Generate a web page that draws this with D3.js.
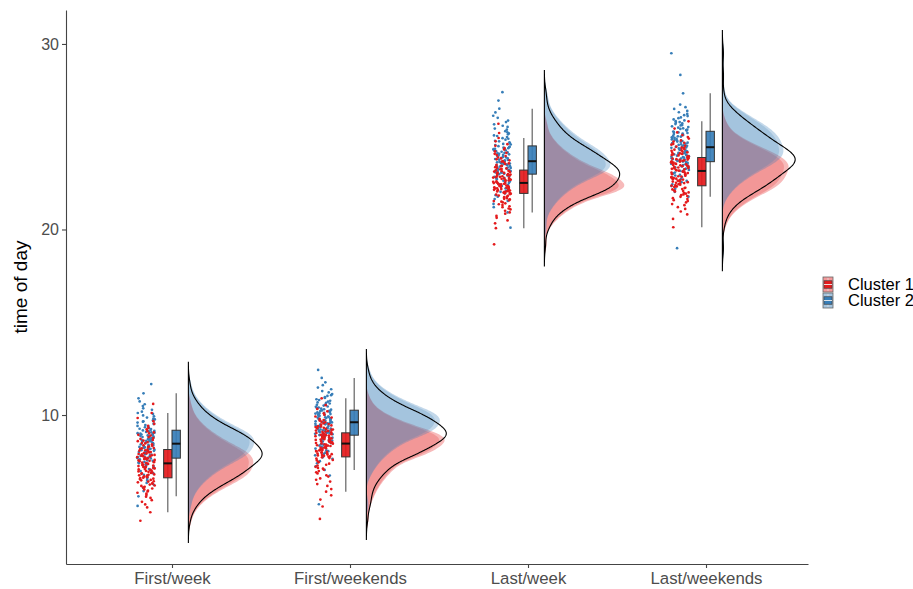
<!DOCTYPE html>
<html>
<head>
<meta charset="utf-8">
<script src="https://cdn.jsdelivr.net/npm/d3@7"></script>
<style>
  body { margin: 0; background: #fff; }
  svg { display: block; font-family: "Liberation Sans", Arial, Helvetica, sans-serif; }
</style>
</head>
<body>
<svg id="chart" width="913" height="589"></svg>
<script>
// ---- data ---------------------------------------------------------------
const categories = ["First/week", "First/weekends", "Last/week", "Last/weekends"];
const clusterNames = ["Cluster 1", "Cluster 2"];
const clusterColors = ["#E41A1C", "#377EB8"];
const yTickValues = [10, 20, 30];

// time of day (hours) per respondent, cluster 1
const c1FirstWeek = [
  4.30, 4.76, 5.02, 5.18, 5.32, 5.41, 5.53, 5.60, 5.69, 5.76, 5.81, 5.88, 5.92, 5.99, 6.04, 6.09, 6.13, 6.18, 6.20, 6.25, 6.30, 6.32, 6.37, 6.41, 6.43, 6.48, 6.50, 6.55, 6.57, 6.60,
  6.62, 6.65, 6.67, 6.70, 6.73, 6.75, 6.78, 6.80, 6.83, 6.86, 6.88, 6.91, 6.94, 6.96, 6.99, 7.01, 7.04, 7.07, 7.09, 7.12, 7.15, 7.17, 7.20, 7.22, 7.25, 7.28, 7.30, 7.33, 7.36, 7.38,
  7.41, 7.43, 7.46, 7.48, 7.51, 7.53, 7.56, 7.58, 7.61, 7.63, 7.66, 7.68, 7.71, 7.73, 7.76, 7.78, 7.81, 7.83, 7.85, 7.88, 7.90, 7.93, 7.95, 7.98, 8.00, 8.03, 8.05, 8.08, 8.10, 8.13,
  8.17, 8.20, 8.22, 8.27, 8.30, 8.35, 8.37, 8.42, 8.47, 8.49, 8.54, 8.59, 8.62, 8.66, 8.71, 8.76, 8.81, 8.89, 8.93, 9.01, 9.06, 9.13, 9.23, 9.30, 9.42, 9.52, 9.67, 9.84, 10.11, 10.60
];
const c1FirstWeekends = [
  4.40, 5.07, 5.44, 5.67, 5.87, 6.01, 6.18, 6.28, 6.41, 6.51, 6.58, 6.68, 6.75, 6.85, 6.91, 6.98, 7.05, 7.11, 7.15, 7.21, 7.28, 7.32, 7.38, 7.45, 7.48, 7.55, 7.58, 7.65, 7.68, 7.72,
  7.75, 7.77, 7.80, 7.82, 7.85, 7.87, 7.89, 7.92, 7.94, 7.97, 7.99, 8.01, 8.04, 8.06, 8.09, 8.11, 8.13, 8.16, 8.18, 8.21, 8.23, 8.25, 8.28, 8.30, 8.33, 8.35, 8.37, 8.40, 8.42, 8.45,
  8.47, 8.49, 8.51, 8.53, 8.55, 8.57, 8.59, 8.61, 8.62, 8.64, 8.66, 8.68, 8.70, 8.72, 8.74, 8.76, 8.78, 8.80, 8.82, 8.84, 8.86, 8.88, 8.89, 8.91, 8.93, 8.95, 8.97, 8.99, 9.01, 9.03,
  9.07, 9.09, 9.11, 9.14, 9.16, 9.20, 9.22, 9.25, 9.29, 9.31, 9.35, 9.38, 9.40, 9.44, 9.48, 9.51, 9.55, 9.61, 9.64, 9.70, 9.73, 9.79, 9.86, 9.92, 10.01, 10.09, 10.20, 10.33, 10.53, 10.90
];
const c1LastWeek = [
  19.20, 20.07, 20.33, 20.49, 20.63, 20.73, 20.85, 20.92, 21.01, 21.08, 21.13, 21.20, 21.25, 21.32, 21.36, 21.41, 21.46, 21.50, 21.53, 21.57, 21.62, 21.65, 21.69, 21.74, 21.76, 21.81, 21.83, 21.88, 21.90, 21.93,
  21.95, 21.97, 21.99, 22.01, 22.03, 22.05, 22.06, 22.08, 22.10, 22.12, 22.14, 22.16, 22.18, 22.20, 22.22, 22.24, 22.25, 22.27, 22.29, 22.31, 22.33, 22.35, 22.37, 22.39, 22.41, 22.43, 22.44, 22.46, 22.48, 22.50,
  22.52, 22.54, 22.57, 22.59, 22.61, 22.64, 22.66, 22.68, 22.70, 22.73, 22.75, 22.77, 22.80, 22.82, 22.84, 22.87, 22.89, 22.91, 22.93, 22.96, 22.98, 23.00, 23.03, 23.05, 23.07, 23.10, 23.12, 23.14, 23.16, 23.19,
  23.24, 23.26, 23.29, 23.33, 23.36, 23.41, 23.43, 23.48, 23.53, 23.56, 23.61, 23.66, 23.68, 23.73, 23.78, 23.83, 23.88, 23.96, 24.01, 24.08, 24.13, 24.21, 24.31, 24.38, 24.51, 24.60, 24.75, 24.93, 25.20, 25.70
];
const c1LastWeekends = [
  20.12, 20.57, 20.81, 20.97, 21.11, 21.20, 21.31, 21.37, 21.46, 21.53, 21.58, 21.64, 21.69, 21.76, 21.80, 21.85, 21.89, 21.93, 21.96, 22.00, 22.05, 22.07, 22.11, 22.16, 22.18, 22.23, 22.25, 22.29, 22.32, 22.34,
  22.36, 22.39, 22.41, 22.44, 22.47, 22.50, 22.52, 22.55, 22.58, 22.60, 22.63, 22.66, 22.69, 22.71, 22.74, 22.77, 22.79, 22.82, 22.85, 22.87, 22.90, 22.93, 22.96, 22.98, 23.01, 23.04, 23.06, 23.09, 23.12, 23.14,
  23.17, 23.19, 23.22, 23.24, 23.27, 23.29, 23.31, 23.34, 23.36, 23.39, 23.41, 23.43, 23.46, 23.48, 23.51, 23.53, 23.55, 23.58, 23.60, 23.63, 23.65, 23.67, 23.70, 23.72, 23.75, 23.77, 23.79, 23.82, 23.84, 23.87,
  23.91, 23.93, 23.95, 23.99, 24.01, 24.05, 24.07, 24.10, 24.14, 24.16, 24.20, 24.24, 24.26, 24.30, 24.34, 24.38, 24.41, 24.47, 24.51, 24.57, 24.61, 24.67, 24.74, 24.80, 24.90, 24.98, 25.09, 25.23, 25.44, 25.83
];

// time of day (hours) per respondent, cluster 2
const c2FirstWeek = [
  5.10, 5.62, 5.90, 6.08, 6.24, 6.34, 6.47, 6.55, 6.65, 6.73, 6.78, 6.85, 6.91, 6.98, 7.04, 7.09, 7.14, 7.19, 7.22, 7.27, 7.32, 7.35, 7.40, 7.45, 7.47, 7.53, 7.55, 7.61, 7.63, 7.66,
  7.68, 7.71, 7.73, 7.76, 7.79, 7.81, 7.84, 7.86, 7.89, 7.92, 7.94, 7.97, 8.00, 8.02, 8.05, 8.07, 8.10, 8.13, 8.15, 8.18, 8.21, 8.23, 8.26, 8.28, 8.31, 8.34, 8.36, 8.39, 8.42, 8.44,
  8.47, 8.49, 8.52, 8.54, 8.57, 8.59, 8.61, 8.64, 8.66, 8.69, 8.71, 8.73, 8.76, 8.78, 8.81, 8.83, 8.85, 8.88, 8.90, 8.93, 8.95, 8.97, 9.00, 9.02, 9.05, 9.07, 9.09, 9.12, 9.14, 9.17,
  9.21, 9.24, 9.26, 9.31, 9.34, 9.39, 9.41, 9.46, 9.51, 9.54, 9.59, 9.64, 9.66, 9.71, 9.76, 9.81, 9.86, 9.93, 9.98, 10.06, 10.11, 10.18, 10.28, 10.36, 10.48, 10.58, 10.73, 10.90, 11.17, 11.67
];
const c2FirstWeekends = [
  5.19, 6.74, 7.04, 7.23, 7.40, 7.51, 7.64, 7.72, 7.83, 7.91, 7.97, 8.05, 8.10, 8.19, 8.24, 8.29, 8.35, 8.40, 8.43, 8.49, 8.54, 8.57, 8.62, 8.68, 8.70, 8.76, 8.78, 8.84, 8.87, 8.89,
  8.92, 8.94, 8.97, 8.99, 9.01, 9.04, 9.06, 9.08, 9.11, 9.13, 9.15, 9.18, 9.20, 9.22, 9.25, 9.27, 9.29, 9.32, 9.34, 9.36, 9.39, 9.41, 9.43, 9.46, 9.48, 9.50, 9.53, 9.55, 9.57, 9.60,
  9.62, 9.64, 9.66, 9.69, 9.71, 9.73, 9.75, 9.77, 9.79, 9.82, 9.84, 9.86, 9.88, 9.90, 9.92, 9.95, 9.97, 9.99, 10.01, 10.03, 10.05, 10.08, 10.10, 10.12, 10.14, 10.16, 10.18, 10.21, 10.23, 10.25,
  10.29, 10.31, 10.34, 10.38, 10.40, 10.44, 10.46, 10.51, 10.55, 10.57, 10.62, 10.66, 10.68, 10.72, 10.77, 10.81, 10.85, 10.92, 10.96, 11.03, 11.07, 11.13, 11.22, 11.29, 11.39, 11.48, 11.61, 11.76, 12.00, 12.43
];
const c2LastWeek = [
  20.10, 20.92, 21.20, 21.38, 21.54, 21.64, 21.77, 21.85, 21.95, 22.03, 22.08, 22.16, 22.21, 22.29, 22.34, 22.39, 22.45, 22.50, 22.52, 22.58, 22.63, 22.65, 22.71, 22.76, 22.78, 22.84, 22.86, 22.91, 22.94, 22.96,
  22.99, 23.01, 23.04, 23.06, 23.08, 23.11, 23.13, 23.15, 23.18, 23.20, 23.22, 23.25, 23.27, 23.29, 23.32, 23.34, 23.36, 23.39, 23.41, 23.43, 23.46, 23.48, 23.50, 23.53, 23.55, 23.57, 23.60, 23.62, 23.64, 23.67,
  23.69, 23.72, 23.75, 23.77, 23.80, 23.83, 23.86, 23.88, 23.91, 23.94, 23.97, 23.99, 24.02, 24.05, 24.08, 24.11, 24.13, 24.16, 24.19, 24.22, 24.24, 24.27, 24.30, 24.33, 24.35, 24.38, 24.41, 24.44, 24.46, 24.49,
  24.55, 24.58, 24.61, 24.66, 24.69, 24.75, 24.78, 24.84, 24.89, 24.92, 24.98, 25.04, 25.07, 25.13, 25.18, 25.24, 25.30, 25.38, 25.44, 25.53, 25.59, 25.67, 25.79, 25.87, 26.02, 26.13, 26.31, 26.51, 26.95, 27.40
];
const c2LastWeekends = [
  18.99, 21.77, 22.03, 22.20, 22.34, 22.43, 22.55, 22.62, 22.72, 22.79, 22.83, 22.91, 22.95, 23.02, 23.07, 23.12, 23.16, 23.21, 23.24, 23.28, 23.33, 23.35, 23.40, 23.45, 23.47, 23.52, 23.54, 23.59, 23.61, 23.64,
  23.66, 23.69, 23.71, 23.74, 23.77, 23.79, 23.82, 23.84, 23.87, 23.90, 23.92, 23.95, 23.98, 24.00, 24.03, 24.05, 24.08, 24.11, 24.13, 24.16, 24.19, 24.21, 24.24, 24.26, 24.29, 24.32, 24.34, 24.37, 24.40, 24.42,
  24.45, 24.48, 24.51, 24.54, 24.56, 24.59, 24.62, 24.65, 24.68, 24.71, 24.74, 24.77, 24.79, 24.82, 24.85, 24.88, 24.91, 24.94, 24.97, 25.00, 25.02, 25.05, 25.08, 25.11, 25.14, 25.17, 25.20, 25.23, 25.25, 25.28,
  25.33, 25.36, 25.38, 25.42, 25.45, 25.49, 25.52, 25.56, 25.61, 25.63, 25.68, 25.72, 25.75, 25.79, 25.84, 25.88, 25.93, 26.00, 26.04, 26.11, 26.16, 26.23, 26.32, 26.39, 26.50, 26.59, 26.73, 27.34, 28.33, 29.50
];

const cluster1Series = [c1FirstWeek, c1FirstWeekends, c1LastWeek, c1LastWeekends];
const cluster2Series = [c2FirstWeek, c2FirstWeekends, c2LastWeek, c2LastWeekends];

// ---- layout -------------------------------------------------------------
const svg = d3.select("#chart");
const panel = { left: 66, right: 808, top: 10, bottom: 564 };

const x = d3.scaleLinear().domain([0.4045, 4.573]).range([panel.left, panel.right]);
const y = d3.scaleLinear().domain([1.97, 31.83]).range([panel.bottom, panel.top]);

// offsets in category units
const rain = { center: -0.146, spread: 0.05 };
const box = { dodge: 0.0235, width: 0.047 };
const cloud = { offset: 0.092, width: 0.449 };

// ---- helpers ------------------------------------------------------------
function bwNrd0(v) {
  const s = d3.deviation(v);
  const iqr = d3.quantile(v, 0.75) - d3.quantile(v, 0.25);
  return 0.9 * Math.min(s, iqr / 1.34) * Math.pow(v.length, -0.2);
}
function kde(v) {
  const sorted = v.slice().sort(d3.ascending);
  const bw = bwNrd0(sorted);
  const lo = sorted[0] - 3 * bw, hi = sorted[sorted.length - 1] + 3 * bw;
  const n = 300, c = 1 / (bw * Math.sqrt(2 * Math.PI) * sorted.length);
  return d3.range(n).map(k => {
    const t = lo + (hi - lo) * k / (n - 1);
    let s = 0;
    for (const xi of sorted) { const u = (t - xi) / bw; s += Math.exp(-0.5 * u * u); }
    return [t, s * c];
  });
}
function boxStats(v) {
  const s = v.slice().sort(d3.ascending);
  const q1 = d3.quantile(s, 0.25), med = d3.quantile(s, 0.5), q3 = d3.quantile(s, 0.75);
  const iqr = q3 - q1;
  const lo = d3.min(s.filter(d => d >= q1 - 1.5 * iqr));
  const hi = d3.max(s.filter(d => d <= q3 + 1.5 * iqr));
  return { q1, med, q3, lo, hi };
}
// deterministic horizontal jitter in [-1, 1]
function jitterOffset(i, seed) {
  const s = Math.sin(i * 12.9898 + seed * 78.233) * 43758.5453;
  return (s - Math.floor(s)) * 2 - 1;
}

// ---- densities ----------------------------------------------------------
const clusterDens = categories.map((_, ci) => [kde(cluster1Series[ci]), kde(cluster2Series[ci])]);
const totalDens = categories.map((_, ci) => kde(cluster1Series[ci].concat(cluster2Series[ci])));
const maxClusterD = d3.max(clusterDens.flat(), d => d3.max(d, p => p[1]));
const maxTotalD = d3.max(totalDens, d => d3.max(d, p => p[1]));

const gPlot = svg.append("g");

// filled half-violins (cluster 1 below cluster 2); a soft rim around each
categories.forEach((cat, ci) => {
  const xc = ci + 1;
  [0, 1].forEach(k => {
    const dens = clusterDens[ci][k];
    [[1, 0.3], [0.93, 0.22]].forEach(([scale, op]) => {
      const area = d3.area()
        .y(d => y(d[0]))
        .x0(x(xc + cloud.offset))
        .x1(d => x(xc + cloud.offset + d[1] / maxClusterD * cloud.width * scale));
      gPlot.append("path")
        .attr("d", area(dens))
        .attr("fill", clusterColors[k])
        .attr("fill-opacity", op)
        .attr("stroke", "none");
    });
  });
});

// outline of the pooled density
categories.forEach((cat, ci) => {
  const xc = ci + 1;
  const dens = totalDens[ci];
  const pts = [[x(xc + cloud.offset), y(dens[0][0])]]
    .concat(dens.map(d => [x(xc + cloud.offset + d[1] / maxTotalD * cloud.width), y(d[0])]))
    .concat([[x(xc + cloud.offset), y(dens[dens.length - 1][0])]]);
  gPlot.append("path")
    .attr("d", d3.line()(pts) + "Z")
    .attr("fill", "none")
    .attr("stroke", "#000")
    .attr("stroke-width", 1.1);
});

// jittered raw points
categories.forEach((cat, ci) => {
  const xc = ci + 1;
  const a = cluster1Series[ci], b = cluster2Series[ci];
  const n = Math.max(a.length, b.length);
  const pts = [];
  for (let i = 0; i < n; i++) {
    if (i < b.length) pts.push({ v: b[i], k: 1, j: jitterOffset(i, ci * 2 + 2) });
    if (i < a.length) pts.push({ v: a[i], k: 0, j: jitterOffset(i, ci * 2 + 1) });
  }
  gPlot.append("g").selectAll("circle").data(pts).join("circle")
    .attr("cx", d => x(xc + rain.center + d.j * rain.spread))
    .attr("cy", d => y(d.v))
    .attr("r", 1.35)
    .attr("fill", d => clusterColors[d.k]);
});

// boxplots (dodged by cluster)
categories.forEach((cat, ci) => {
  const xc = ci + 1;
  [cluster1Series[ci], cluster2Series[ci]].forEach((vals, k) => {
    const st = boxStats(vals);
    const cx = xc + (k === 0 ? -box.dodge : box.dodge);
    const g = gPlot.append("g");
    g.append("line")
      .attr("x1", x(cx)).attr("x2", x(cx))
      .attr("y1", y(st.hi)).attr("y2", y(st.lo))
      .attr("stroke", "#555").attr("stroke-width", 1.1);
    g.append("rect")
      .attr("x", x(cx - box.width / 2))
      .attr("width", x(cx + box.width / 2) - x(cx - box.width / 2))
      .attr("y", y(st.q3))
      .attr("height", y(st.q1) - y(st.q3))
      .attr("fill", clusterColors[k]).attr("fill-opacity", 0.92)
      .attr("stroke", "#333").attr("stroke-width", 1);
    g.append("line")
      .attr("x1", x(cx - box.width / 2)).attr("x2", x(cx + box.width / 2))
      .attr("y1", y(st.med)).attr("y2", y(st.med))
      .attr("stroke", "#111").attr("stroke-width", 2);
  });
});

// ---- axes ---------------------------------------------------------------
const yAxis = svg.append("g")
  .attr("transform", `translate(${panel.left},0)`)
  .call(d3.axisLeft(y).tickValues(yTickValues).tickSize(4).tickSizeOuter(0).tickPadding(3));
const xAxis = svg.append("g")
  .attr("transform", `translate(0,${panel.bottom})`)
  .call(d3.axisBottom(x).tickValues([1, 2, 3, 4]).tickFormat(d => categories[d - 1])
    .tickSize(4).tickSizeOuter(0).tickPadding(4));
[yAxis, xAxis].forEach(ax => {
  ax.select(".domain").attr("stroke", "#444").attr("stroke-width", 1.1);
  ax.selectAll(".tick line").attr("stroke", "#444").attr("stroke-width", 1.1);
  ax.selectAll(".tick text")
    .attr("fill", "#4D4D4D")
    .style("font-family", '"Liberation Sans", Arial, sans-serif');
});
yAxis.selectAll(".tick text").style("font-size", "16px");
xAxis.selectAll(".tick text").style("font-size", "16.8px");

svg.append("text")
  .attr("transform", `translate(27,${(panel.top + panel.bottom) / 2}) rotate(-90)`)
  .attr("text-anchor", "middle")
  .style("font-size", "19px")
  .attr("fill", "#000")
  .text("time of day");

// ---- legend -------------------------------------------------------------
const legend = svg.append("g").attr("transform", "translate(823,277)");
clusterNames.forEach((name, k) => {
  const g = legend.append("g").attr("transform", `translate(0,${k * 16})`);
  const w = 10, h = 15;
  g.append("rect").attr("x", 0).attr("y", 0).attr("width", w).attr("height", h)
    .attr("fill", clusterColors[k]).attr("fill-opacity", 0.45)
    .attr("stroke", "#666").attr("stroke-width", 0.8);
  g.append("line").attr("x1", w / 2).attr("x2", w / 2).attr("y1", 1).attr("y2", h - 1)
    .attr("stroke", "#ddd").attr("stroke-width", 0.8);
  g.append("rect").attr("x", 1).attr("y", h * 0.25).attr("width", w - 2).attr("height", h * 0.5)
    .attr("fill", clusterColors[k]).attr("stroke", "#444").attr("stroke-width", 0.7);
  g.append("line").attr("x1", 1).attr("x2", w - 1).attr("y1", h / 2).attr("y2", h / 2)
    .attr("stroke", "#eee").attr("stroke-width", 0.9);
  g.append("text").attr("x", 25).attr("y", h / 2).attr("dy", "0.36em")
    .style("font-size", "16.5px").attr("fill", "#000").text(name);
});
</script>
</body>
</html>
